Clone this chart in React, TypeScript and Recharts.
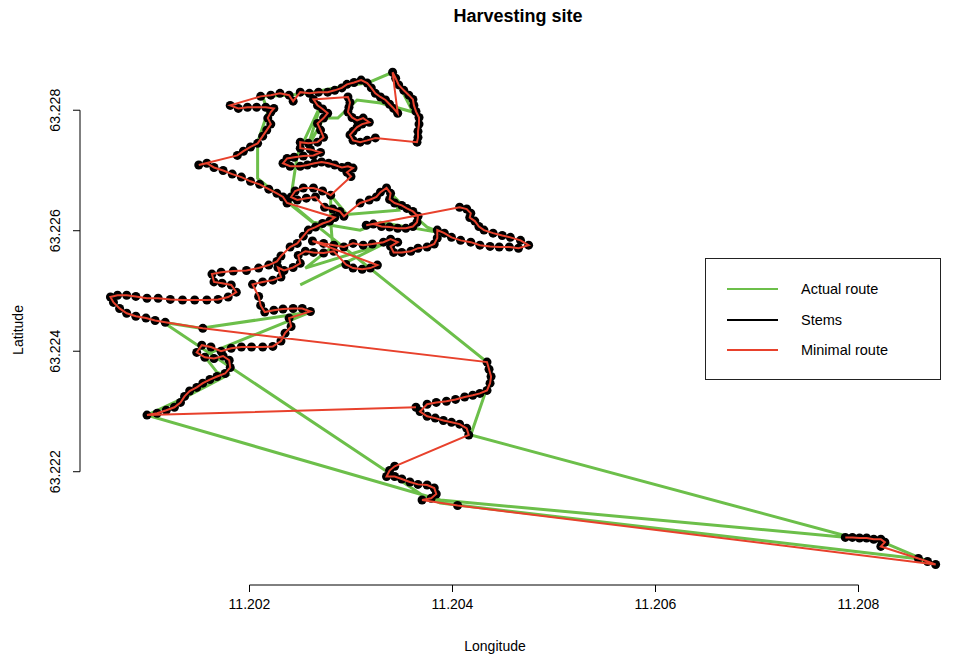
import React from "react";
import { ComposedChart, Scatter, XAxis, YAxis, ReferenceLine, Legend } from "recharts";

const GREEN = "#6cbf4a";
const RED = "#e8412c";
const FONT = "'Liberation Sans', Arial, Helvetica, sans-serif";

const LON_DOMAIN: [number, number] = [11.20033, 11.209];
const LAT_DOMAIN: [number, number] = [63.22012, 63.2289];
const lonTicks = [11.202, 11.204, 11.206, 11.208];
const latTicks = [63.222, 63.224, 63.226, 63.228];

const legendItems = [
  { label: "Actual route", color: GREEN },
  { label: "Stems", color: "#000000" },
  { label: "Minimal route", color: RED },
];

// stems, listed in the order the minimal route visits them
const stems: [number, number][] = [
  [11.20787, 63.22091], [11.20794, 63.22091], [11.20801, 63.2209], [11.20808, 63.2209], [11.20815, 63.22088],
  [11.20822, 63.22088], [11.20826, 63.22083], [11.20822, 63.22076], [11.20859, 63.22056], [11.20868, 63.22051],
  [11.20876, 63.22046],
  [11.20405, 63.22144], [11.2037, 63.22153], [11.20379, 63.22156], [11.20384, 63.22163], [11.20382, 63.22173],
  [11.20375, 63.22178], [11.20366, 63.22179], [11.20358, 63.22183], [11.2035, 63.22188], [11.20343, 63.22192],
  [11.20335, 63.22192], [11.20338, 63.22202], [11.20343, 63.22209],
  [11.20416, 63.22261], [11.20414, 63.22272], [11.20407, 63.22279], [11.20399, 63.22282], [11.20391, 63.22285],
  [11.20383, 63.22289], [11.20375, 63.22292], [11.20368, 63.223],
  [11.20375, 63.22312], [11.20384, 63.22315], [11.20394, 63.22317], [11.20403, 63.2232], [11.20412, 63.22324],
  [11.2042, 63.22327], [11.20427, 63.2233], [11.20434, 63.22335], [11.20437, 63.22347], [11.20438, 63.22358],
  [11.20436, 63.2237], [11.20434, 63.22382],
  [11.20154, 63.22438],
  [11.20117, 63.22448], [11.20107, 63.22451], [11.20098, 63.22455], [11.20088, 63.22458], [11.20079, 63.22463],
  [11.20072, 63.22471], [11.20066, 63.22481], [11.20063, 63.2249], [11.2007, 63.22493], [11.20079, 63.22493],
  [11.20088, 63.22491], [11.20099, 63.22488], [11.2011, 63.22488], [11.20122, 63.22486], [11.20134, 63.22485],
  [11.20146, 63.22485], [11.20158, 63.22485], [11.20169, 63.22486], [11.20179, 63.2249], [11.20187, 63.22498],
  [11.20182, 63.2251], [11.20173, 63.22513], [11.20165, 63.22515], [11.20163, 63.22528], [11.20172, 63.22531],
  [11.20184, 63.22533], [11.20197, 63.22534], [11.20209, 63.22538], [11.20219, 63.22543], [11.20227, 63.22549],
  [11.20231, 63.22558],
  [11.2024, 63.22573], [11.20247, 63.22579], [11.20253, 63.22591], [11.20258, 63.22601], [11.20265, 63.22606],
  [11.20272, 63.22612], [11.20279, 63.22616], [11.20284, 63.22622],
  [11.20237, 63.22646], [11.20233, 63.22656], [11.20227, 63.22662], [11.20219, 63.22669], [11.2021, 63.22677],
  [11.20201, 63.22682], [11.20192, 63.22689], [11.20183, 63.22694], [11.20174, 63.227], [11.20165, 63.22705],
  [11.20158, 63.22712], [11.2015, 63.22709],
  [11.20188, 63.22725], [11.20194, 63.22732], [11.20201, 63.22739], [11.20208, 63.22745], [11.20213, 63.22757],
  [11.20217, 63.22767], [11.20221, 63.22777], [11.20218, 63.22787], [11.20221, 63.22797], [11.20224, 63.22803],
  [11.20216, 63.22805], [11.20207, 63.22805], [11.20198, 63.22805], [11.20189, 63.22803], [11.20181, 63.22808],
  [11.20211, 63.22823], [11.20221, 63.22825], [11.2023, 63.22828], [11.20239, 63.22825], [11.20243, 63.22815],
  [11.2025, 63.2283], [11.20259, 63.22828], [11.20268, 63.2283], [11.20277, 63.2283], [11.20284, 63.22833],
  [11.20291, 63.22837], [11.20296, 63.22843], [11.20303, 63.22846], [11.2031, 63.2285], [11.20316, 63.22845],
  [11.2032, 63.22837], [11.20324, 63.22828], [11.20329, 63.22822], [11.20334, 63.22817], [11.20338, 63.2281],
  [11.20342, 63.22803], [11.20346, 63.22795],
  [11.20341, 63.22863], [11.20344, 63.22853], [11.20347, 63.22842], [11.20352, 63.22833], [11.20357, 63.22825],
  [11.20361, 63.22818], [11.20362, 63.22808], [11.20364, 63.22798], [11.20367, 63.22788], [11.20367, 63.22777],
  [11.20366, 63.22765], [11.20366, 63.22755], [11.20365, 63.22747],
  [11.20324, 63.22754], [11.20316, 63.2275], [11.20309, 63.22747], [11.20302, 63.2275], [11.20299, 63.22759],
  [11.20302, 63.22765], [11.20306, 63.22772], [11.20311, 63.22777], [11.20318, 63.2278], [11.20312, 63.22787],
  [11.20306, 63.22783], [11.20301, 63.22788], [11.20297, 63.22797], [11.20298, 63.22805], [11.20299, 63.22813],
  [11.20297, 63.22822],
  [11.20263, 63.22818], [11.20267, 63.22808], [11.20272, 63.22802], [11.20277, 63.22795], [11.20273, 63.22787],
  [11.20267, 63.22778], [11.2027, 63.22767], [11.20273, 63.22755], [11.20267, 63.22747], [11.20258, 63.22745],
  [11.2025, 63.22747], [11.2025, 63.22737], [11.2026, 63.22735], [11.2027, 63.2273], [11.20263, 63.22725],
  [11.20253, 63.22724],
  [11.20244, 63.22722], [11.20237, 63.2272], [11.20233, 63.22712], [11.2024, 63.22707], [11.2025, 63.22707],
  [11.20257, 63.22709], [11.20264, 63.22712], [11.20271, 63.22714], [11.20278, 63.22712], [11.20284, 63.22709],
  [11.20291, 63.22705], [11.20297, 63.22707], [11.20302, 63.22704], [11.20296, 63.22697], [11.203, 63.2269],
  [11.2028, 63.22659], [11.20272, 63.22666], [11.20263, 63.22671], [11.20253, 63.22671], [11.20245, 63.22666],
  [11.20241, 63.22656], [11.20247, 63.22651], [11.20256, 63.22654], [11.20265, 63.22656], [11.20274, 63.22639],
  [11.20282, 63.22636], [11.20289, 63.22632], [11.20293, 63.22624],
  [11.20309, 63.22646], [11.20318, 63.22651], [11.20325, 63.22656], [11.20329, 63.22664], [11.20335, 63.22671],
  [11.20339, 63.22662], [11.20338, 63.22652], [11.20343, 63.22646], [11.2035, 63.22642], [11.20355, 63.22637],
  [11.20361, 63.22632], [11.20366, 63.22624], [11.20365, 63.22614], [11.20361, 63.22607], [11.20354, 63.22604],
  [11.20346, 63.22604], [11.20338, 63.22606], [11.2033, 63.22607], [11.20322, 63.22611], [11.20315, 63.22609],
  [11.20407, 63.22639], [11.20414, 63.22636], [11.20418, 63.22629], [11.20417, 63.22622], [11.20422, 63.22616],
  [11.20426, 63.22607], [11.20431, 63.22601], [11.2044, 63.22596], [11.20449, 63.22592], [11.20457, 63.22589],
  [11.20467, 63.22584], [11.20475, 63.22576],
  [11.20465, 63.22571], [11.20456, 63.22573], [11.20446, 63.22573], [11.20437, 63.22574], [11.20427, 63.22576],
  [11.20418, 63.22581], [11.20408, 63.22584], [11.20399, 63.22589], [11.20392, 63.22596], [11.20385, 63.22601],
  [11.20385, 63.22588], [11.20382, 63.22578], [11.20375, 63.22573], [11.20366, 63.22571], [11.20359, 63.22566],
  [11.2035, 63.22564], [11.20342, 63.22564], [11.20339, 63.22574], [11.20346, 63.22581], [11.20339, 63.22586],
  [11.20332, 63.22581], [11.20321, 63.22578], [11.20312, 63.22576], [11.20302, 63.22579], [11.20293, 63.22573],
  [11.20283, 63.22576], [11.20273, 63.22579], [11.20262, 63.22583],
  [11.20326, 63.22543], [11.20319, 63.22538], [11.20311, 63.22536], [11.20302, 63.22538], [11.20295, 63.22544],
  [11.20283, 63.22566], [11.20273, 63.22563], [11.20263, 63.22564], [11.20255, 63.22566], [11.20248, 63.22559],
  [11.2025, 63.22546], [11.20243, 63.22539], [11.20234, 63.22534], [11.20228, 63.22539],
  [11.20231, 63.22523], [11.20223, 63.22518], [11.20213, 63.22515], [11.20203, 63.22511],
  [11.20209, 63.22491], [11.20211, 63.22476], [11.20215, 63.22465], [11.20224, 63.22468], [11.20233, 63.2247],
  [11.20243, 63.22471], [11.20252, 63.22471], [11.2026, 63.22466], [11.20239, 63.22455], [11.20241, 63.22441],
  [11.20235, 63.2243], [11.20231, 63.22417], [11.20223, 63.22408], [11.20213, 63.22407], [11.20202, 63.22407],
  [11.20192, 63.22407], [11.20182, 63.22405], [11.20172, 63.224], [11.20162, 63.22407], [11.20153, 63.2241],
  [11.20148, 63.22398], [11.20156, 63.2239], [11.20165, 63.22388], [11.20174, 63.22392], [11.2018, 63.22385],
  [11.20181, 63.22373], [11.20176, 63.22363], [11.20168, 63.22358], [11.20161, 63.22353], [11.20154, 63.22347],
  [11.20148, 63.2234], [11.20141, 63.22334], [11.20136, 63.22325], [11.20132, 63.22315], [11.20126, 63.22307],
  [11.20118, 63.22302], [11.20109, 63.22297], [11.20099, 63.22294],
  [11.20364, 63.22307],
];

// GPS trace of the machine
const actualRoute: [number, number][] = [
  [11.2025, 63.2251], [11.20332, 63.22578], [11.20255, 63.22538], [11.20282, 63.22574], [11.2028, 63.22614],
  [11.2028, 63.22659], [11.20296, 63.22627], [11.20347, 63.22634], [11.20339, 63.22662], [11.20359, 63.22629],
  [11.20375, 63.22606], [11.2039, 63.22596], [11.20329, 63.22614], [11.20309, 63.22601], [11.20263, 63.22614],
  [11.2024, 63.22646], [11.20247, 63.22725], [11.2027, 63.22808], [11.20257, 63.22737], [11.20273, 63.22787],
  [11.20287, 63.22787], [11.20306, 63.22817], [11.20329, 63.22812], [11.20361, 63.22797], [11.20341, 63.22863],
  [11.20316, 63.22845], [11.20292, 63.2284], [11.20263, 63.2283], [11.2024, 63.22825], [11.20213, 63.22823],
  [11.20218, 63.22797], [11.20208, 63.22747], [11.20208, 63.22687], [11.20434, 63.22382], [11.20437, 63.22352],
  [11.20432, 63.2233], [11.20418, 63.22261], [11.20789, 63.22093], [11.2081, 63.2209], [11.20824, 63.22083],
  [11.20876, 63.22046], [11.20856, 63.22056], [11.20388, 63.22148], [11.20373, 63.22158], [11.20115, 63.22448],
  [11.20152, 63.22438], [11.2026, 63.22465], [11.20155, 63.22393], [11.20168, 63.22365], [11.20178, 63.2236],
  [11.20135, 63.22322], [11.20099, 63.22294], [11.20388, 63.22153], [11.20789, 63.22091],
];

const toPoints = (list: [number, number][]) => list.map(([lon, lat]) => ({ lon, lat }));
const stemPoints = toPoints(stems);
const actualPoints = toPoints(actualRoute);

const PLOT_LEFT = 80;
const PLOT_BOTTOM = 585;

const XTick = (props: any) => {
  const { x, payload } = props;
  return (
    <g>
      <line x1={x} x2={x} y1={PLOT_BOTTOM} y2={PLOT_BOTTOM + 7} stroke="#000" />
      <text x={x} y={609} textAnchor="middle" fontSize={14} fontFamily={FONT} fill="#000">
        {payload.value.toFixed(3)}
      </text>
    </g>
  );
};

const YTick = (props: any) => {
  const { y, payload } = props;
  return (
    <g>
      <line x1={PLOT_LEFT - 7} x2={PLOT_LEFT} y1={y} y2={y} stroke="#000" />
      <text x={60} y={y} transform={`rotate(-90 60 ${y})`} textAnchor="middle" fontSize={14} fontFamily={FONT} fill="#000">
        {payload.value.toFixed(3)}
      </text>
    </g>
  );
};

const xTitle = () => (
  <text x={495} y={651} textAnchor="middle" fontSize={14} fontFamily={FONT} fill="#000">
    Longitude
  </text>
);

const yTitle = () => (
  <text x={23} y={330} transform="rotate(-90 23 330)" textAnchor="middle" fontSize={14} fontFamily={FONT} fill="#000">
    Latitude
  </text>
);

const renderLegend = () => (
  <div
    style={{
      width: 234,
      height: 120,
      border: "1px solid #222",
      background: "#fff",
      fontFamily: FONT,
      fontSize: 14.5,
      color: "#000",
      position: "relative",
    }}
  >
    {legendItems.map((item, i) => (
      <div
        key={item.label}
        style={{ position: "absolute", left: 0, top: 20 + i * 30.5, height: 20, display: "flex", alignItems: "center" }}
      >
        <span style={{ display: "inline-block", marginLeft: 21, width: 51, height: 2, background: item.color }} />
        <span style={{ marginLeft: 23, whiteSpace: "nowrap" }}>{item.label}</span>
      </div>
    ))}
  </div>
);

const StemDot = (props: any) => <circle cx={props.cx} cy={props.cy} r={4.5} fill="#000" />;
const NoDot = () => <g />;

export default function App() {
  return (
    <div style={{ position: "absolute", left: 0, top: 0, width: 955, height: 658, overflow: "hidden", background: "#fff" }}>
      <div
        style={{
          position: "absolute",
          left: 368,
          top: 6,
          width: 300,
          textAlign: "center",
          fontFamily: FONT,
          fontWeight: "bold",
          fontSize: 18,
          color: "#000",
        }}
      >
        Harvesting site
      </div>
      <ComposedChart width={960} height={658} margin={{ top: 56, right: 0, bottom: 0, left: 0 }}>
        <XAxis
          type="number"
          dataKey="lon"
          domain={LON_DOMAIN}
          ticks={lonTicks}
          allowDataOverflow
          height={73}
          axisLine={false}
          tickLine={false}
          tick={<XTick />}
          label={{ content: xTitle }}
        />
        <YAxis
          type="number"
          dataKey="lat"
          domain={LAT_DOMAIN}
          ticks={latTicks}
          allowDataOverflow
          width={PLOT_LEFT}
          axisLine={false}
          tickLine={false}
          tick={<YTick />}
          label={{ content: yTitle }}
        />
        <ReferenceLine
          segment={[{ x: lonTicks[0], y: LAT_DOMAIN[0] }, { x: lonTicks[3], y: LAT_DOMAIN[0] }]}
          stroke="#000"
          ifOverflow="visible"
        />
        <ReferenceLine
          segment={[{ x: LON_DOMAIN[0], y: latTicks[0] }, { x: LON_DOMAIN[0], y: latTicks[3] }]}
          stroke="#000"
          ifOverflow="visible"
        />
        <Scatter
          name="Actual route"
          data={actualPoints}
          line={{ stroke: GREEN, strokeWidth: 3 }}
          shape={<NoDot />}
          isAnimationActive={false}
        />
        <Scatter name="Stems" data={stemPoints} shape={<StemDot />} isAnimationActive={false} />
        <Scatter
          name="Minimal route"
          data={stemPoints}
          line={{ stroke: RED, strokeWidth: 2 }}
          shape={<NoDot />}
          isAnimationActive={false}
        />
        <Legend
          layout="horizontal"
          verticalAlign="middle"
          align="center"
          content={renderLegend}
          wrapperStyle={{ left: 705, top: 258, width: 236, height: 122 }}
        />
      </ComposedChart>
    </div>
  );
}
